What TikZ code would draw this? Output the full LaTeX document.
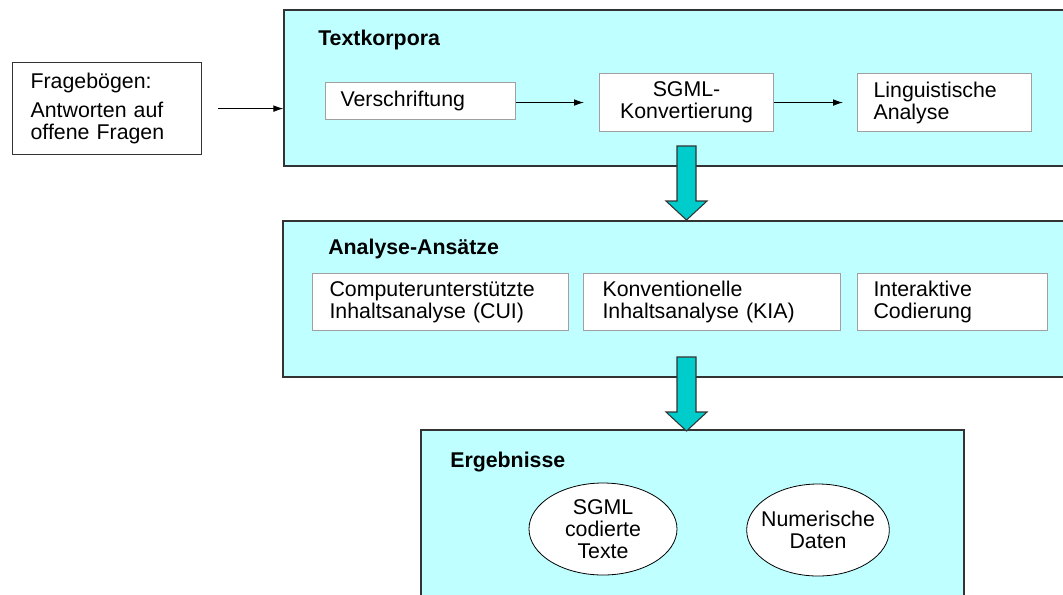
\documentclass[tikz,border=0pt]{standalone}
\usepackage{fontspec}
\setmainfont{Liberation Sans}
\usetikzlibrary{arrows.meta,fit,shapes.geometric}

\definecolor{panelcyan}{RGB}{192,255,255}
\definecolor{arrowteal}{RGB}{0,204,204}
\definecolor{boxgray}{RGB}{160,160,160}

\begin{document}
\begin{tikzpicture}[x=0.75pt, y=-0.75pt, >={Latex[length=7.5pt,width=5pt]},
  every node/.style={font=\fontsize{16}{16.5}\selectfont},
  panel/.style={draw=black!80, line width=0.9pt, fill=panelcyan, inner sep=0pt},
  paneltitle/.style={anchor=west, inner sep=0pt, font=\fontsize{16}{16.5}\selectfont\bfseries},
  stepbox/.style={draw=boxgray, line width=0.8pt, fill=white, anchor=north west, inner ysep=2pt},
  result/.style={ellipse, draw=black, line width=0.6pt, fill=white, inner sep=0pt, minimum height=69pt, align=center},
  flow/.style={->, line width=0.7pt},
  bigarrow/.style={fill=arrowteal, draw=black!80, line width=0.8pt}]

\useasboundingbox (0,0) rectangle (1063,594);
\clip (0,0) rectangle (1063,594);

% === INPUT ===
\node[draw=black!80, line width=0.9pt, anchor=north west, align=left, text width=114.75pt,
      inner xsep=13.5pt, minimum height=69pt] (frage) at (12,62)
  {Fragebögen:\\[5pt]Antworten auf\\offene Fragen};

% === TEXTKORPORA ===
\node[panel, fit={(284,10) (1080,166)}] (korpora) {};
\node[paneltitle] (korporatitle) at (318,40) {Textkorpora};

\node[stepbox, align=left, text width=120pt, inner xsep=11.25pt, minimum height=27.75pt] (verschr) at (325,82) {Verschriftung};
\node[stepbox, align=center, text width=120pt, inner xsep=5.25pt, minimum height=43.5pt] (sgml) at (599,73) {SGML-\\Konvertierung};
\node[stepbox, align=left, text width=106.5pt, inner xsep=12pt, minimum height=43.5pt] (lingu) at (857,73) {Linguistische\\Analyse};

\draw[flow, shorten <=12pt] (frage.east) -- (frage.east -| korpora.west);
\draw[flow, shorten >=11.25pt] (sgml.west -| verschr.east) -- (sgml.west);
\draw[flow, shorten >=10.5pt] (sgml.east) -- (lingu.west);

% === ANALYSE-ANSAETZE ===
\node[panel, fit={(283,221) (1080,377)}] (analyse) {};
\node[paneltitle] (analysetitle) at (328,249) {Analyse-Ansätze};

\node[stepbox, align=left, text width=166.5pt, inner xsep=12.75pt, minimum height=42.75pt] (cui) at (312,273) {Computerunterstützte\\Inhaltsanalyse (CUI)};
\node[stepbox, align=left, text width=164.25pt, inner xsep=14.25pt, minimum height=42.75pt] (kia) at (583,273) {Konventionelle\\Inhaltsanalyse (KIA)};
\node[stepbox, align=left, text width=118.5pt, inner xsep=12pt, minimum height=42.75pt] (icod) at (857,273) {Interaktive\\Codierung};

% === ERGEBNISSE ===
\node[panel, fit={(421,430) (964,600)}] (ergeb) {};
\node[paneltitle] (ergebtitle) at (450,462) {Ergebnisse};

\node[result, minimum width=111pt] (sgmltexte) at (603,529) {SGML\\codierte\\Texte};
\node[result, minimum width=107pt, inner xsep=-5pt] (numdaten) at (818,530) {Numerische\\Daten};

% === BLOCK ARROWS ===
\foreach \ya in {146,357} {
  \filldraw[bigarrow] (677,\ya) -- (696,\ya) -- (696,\ya+55) -- (707,\ya+55)
    -- (686.5,\ya+74) -- (666,\ya+55) -- (677,\ya+55) -- cycle;
}

\end{tikzpicture}
\end{document}
